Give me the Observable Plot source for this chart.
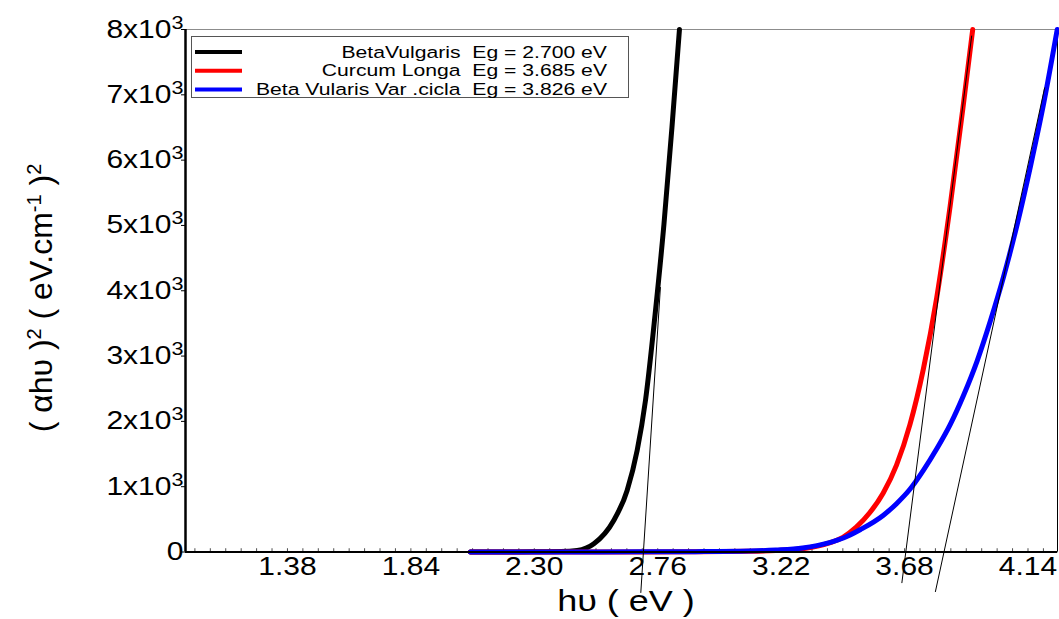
<!DOCTYPE html>
<html><head><meta charset="utf-8">
<script src="https://cdn.jsdelivr.net/npm/d3@7"></script>
<script src="https://cdn.jsdelivr.net/npm/@observablehq/plot@0.6"></script>
<style>
html,body{margin:0;padding:0;background:#fff;}
#chart{width:1059px;height:619px;position:relative;overflow:hidden;background:#fff;}
</style></head><body><div id="chart"></div>
<script>
// ---- data ----
const xDomain = [1.0, 4.25];
const yDomain = [0, 8000];
const xTicks = [1.38, 1.84, 2.30, 2.76, 3.22, 3.68, 4.14];
const xTickLabels = ["1.38", "1.84", "2.30", "2.76", "3.22", "3.68", "4.14"];
const yTicks = [0, 1000, 2000, 3000, 4000, 5000, 6000, 7000, 8000];
const yTickBases = ["0", "1x10", "2x10", "3x10", "4x10", "5x10", "6x10", "7x10", "8x10"];
const yTickExps  = ["", "3", "3", "3", "3", "3", "3", "3", "3"];

const seriesNames = ["BetaVulgaris", "Curcum Longa", "Beta Vularis Var .cicla"];
const bandGaps = ["2.700", "3.685", "3.826"];
const seriesColors = ["#000000", "#ff0000", "#0000ff"];

const energyBlack = [2.062, 2.20, 2.30, 2.398, 2.460, 2.522, 2.596, 2.646, 2.6835, 2.7145, 2.750, 2.783, 2.813, 2.841];
const valueBlack  = [0, 0, 2, 6, 23, 126, 483, 943, 1557, 2324, 3628, 5009, 6500, 8000];

const energyRed = [2.062, 2.40, 2.70, 2.90, 3.10, 3.20, 3.30, 3.40, 3.45, 3.50, 3.55, 3.60, 3.65, 3.70, 3.75, 3.80, 3.85, 3.90, 3.934];
const valueRed  = [0, 0, 1, 3, 10, 22, 50, 140, 225, 380, 600, 900, 1330, 1950, 2800, 3900, 5300, 6880, 8000];

const energyBlue = [2.062, 2.40, 2.70, 2.90, 3.10, 3.20, 3.30, 3.40, 3.452, 3.516, 3.60, 3.65, 3.70, 3.75, 3.80, 3.85, 3.90, 3.95, 4.00, 4.05, 4.10, 4.15, 4.20, 4.249];
const valueBlue  = [0, 0, 2, 5, 14, 30, 62, 145, 215, 345, 560, 740, 960, 1250, 1580, 1950, 2400, 2920, 3540, 4230, 5020, 5920, 6900, 8000];

// tangent (Tauc extrapolation) lines
const tangentBlackE = [2.697, 2.770];
const tangentBlackV = [-620, 4050];
const tangentRedE = [3.670, 3.930];
const tangentRedV = [-470, 7900];
const tangentBlueE = [3.795, 4.202];
const tangentBlueV = [-606, 7106];

const xMinor = d3.range(1.035, 4.25, 0.0575);

// ---- tables ----
const toRows = (E, V) => E.map((e, i) => ({e, v: V[i]}));
const curves = [toRows(energyBlack, valueBlack), toRows(energyRed, valueRed), toRows(energyBlue, valueBlue)];
const tangents = [toRows(tangentBlackE, tangentBlackV), toRows(tangentRedE, tangentRedV), toRows(tangentBlueE, tangentBlueV)];

const FONT = "'Liberation Sans', Arial, Helvetica, sans-serif";
const SX = 1.2; // horizontal stretch of the original picture's text

const svg = Plot.plot({
  width: 1059, height: 619,
  marginLeft: 185, marginRight: 2, marginTop: 29, marginBottom: 67.5,
  style: {fontFamily: FONT, background: "#fff", color: "#000", overflow: "visible"},
  x: {domain: xDomain, label: null},
  y: {domain: yDomain, label: null},
  marks: [
    Plot.frame({stroke: "#8c8c8c", strokeWidth: 1}),
    Plot.ruleX([xDomain[1]], {stroke: "#000", strokeWidth: 1}),
    Plot.ruleX(xMinor, {y1: 0, y2: 50, stroke: "#000", strokeWidth: 0.7}),
    ...curves.map((rows, i) => Plot.line(rows, {x: "e", y: "v", stroke: seriesColors[i], strokeWidth: 5, curve: "monotone-x"})),
    ...tangents.map(rows => Plot.line(rows, {x: "e", y: "v", stroke: "#000", strokeWidth: 1})),
    Plot.ruleY([yDomain[0]], {stroke: "#000", strokeWidth: 2.2}),
    Plot.ruleX([xDomain[0]], {stroke: "#000", strokeWidth: 2.5}),
    Plot.axisX({ticks: xTicks, tickSize: 0, tickPadding: 5, fontSize: 25, label: null,
      tickFormat: d => xTickLabels[xTicks.indexOf(d)]}),
    Plot.axisY({ticks: yTicks, tickSize: 4, tickPadding: -2, fontSize: 25, label: null,
      tickFormat: d => yTickBases[yTicks.indexOf(d)] + yTickExps[yTicks.indexOf(d)]})
  ]
});

// y tick labels: real superscript exponent
svg.querySelectorAll('g[aria-label="y-axis tick label"] text').forEach(t => {
  const s = t.textContent;
  const i = yTickBases.findIndex((b, k) => b + yTickExps[k] === s);
  if (i > 0) {
    t.textContent = yTickBases[i];
    const ts = document.createElementNS("http://www.w3.org/2000/svg", "tspan");
    ts.setAttribute("dy", "-9");
    ts.setAttribute("font-size", "18");
    ts.textContent = yTickExps[i];
    t.appendChild(ts);
  }
});

// stretch tick labels horizontally like the original
svg.querySelectorAll('g[aria-label$="tick label"] text').forEach(t => {
  const tr = t.getAttribute("transform") || "";
  const xa = t.getAttribute("x");
  if (xa && !isNaN(+xa)) t.setAttribute("x", +xa / SX);
  t.setAttribute("transform", `${tr} scale(${SX},1)`);
});

const g = d3.select(svg);

// y-axis title
const yt = g.append("text")
  .attr("transform", "translate(52,298) rotate(-90)")
  .attr("text-anchor", "middle")
  .attr("font-family", FONT).attr("font-size", 32).attr("fill", "#000");
yt.append("tspan").text("(\u00a0αhυ\u00a0)");
yt.append("tspan").attr("baseline-shift", "super").attr("font-size", 20).text("2");
yt.append("tspan").text("\u00a0(\u00a0eV.cm");
yt.append("tspan").attr("baseline-shift", "super").attr("font-size", 20).text("-1");
yt.append("tspan").text("\u00a0)");
yt.append("tspan").attr("baseline-shift", "super").attr("font-size", 20).text("2");

// x-axis title
g.append("text")
  .attr("transform", `translate(626,611) scale(${SX},1)`)
  .attr("text-anchor", "middle")
  .attr("font-family", FONT).attr("font-size", 30).attr("fill", "#000")
  .text("hυ\u00a0(\u00a0eV\u00a0)");

// legend box
const lg = g.append("g").attr("transform", "translate(191,36)");
lg.append("rect").attr("x", 0.5).attr("y", 0.5).attr("width", 437).attr("height", 61)
  .attr("fill", "#fff").attr("stroke", "#555").attr("stroke-width", 1);
seriesNames.forEach((name, i) => {
  const cy = 16 + i * 18.7;
  lg.append("line").attr("x1", 4).attr("x2", 51).attr("y1", cy).attr("y2", cy)
    .attr("stroke", seriesColors[i]).attr("stroke-width", 4);
  lg.append("text")
    .attr("transform", `translate(416,${cy + 5.5}) scale(1.245,1)`)
    .attr("text-anchor", "end")
    .attr("font-family", FONT).attr("font-size", 17).attr("fill", "#000")
    .text(`${name}\u00a0 Eg = ${bandGaps[i]} eV`);
});

document.getElementById("chart").appendChild(svg);
</script></body></html>
